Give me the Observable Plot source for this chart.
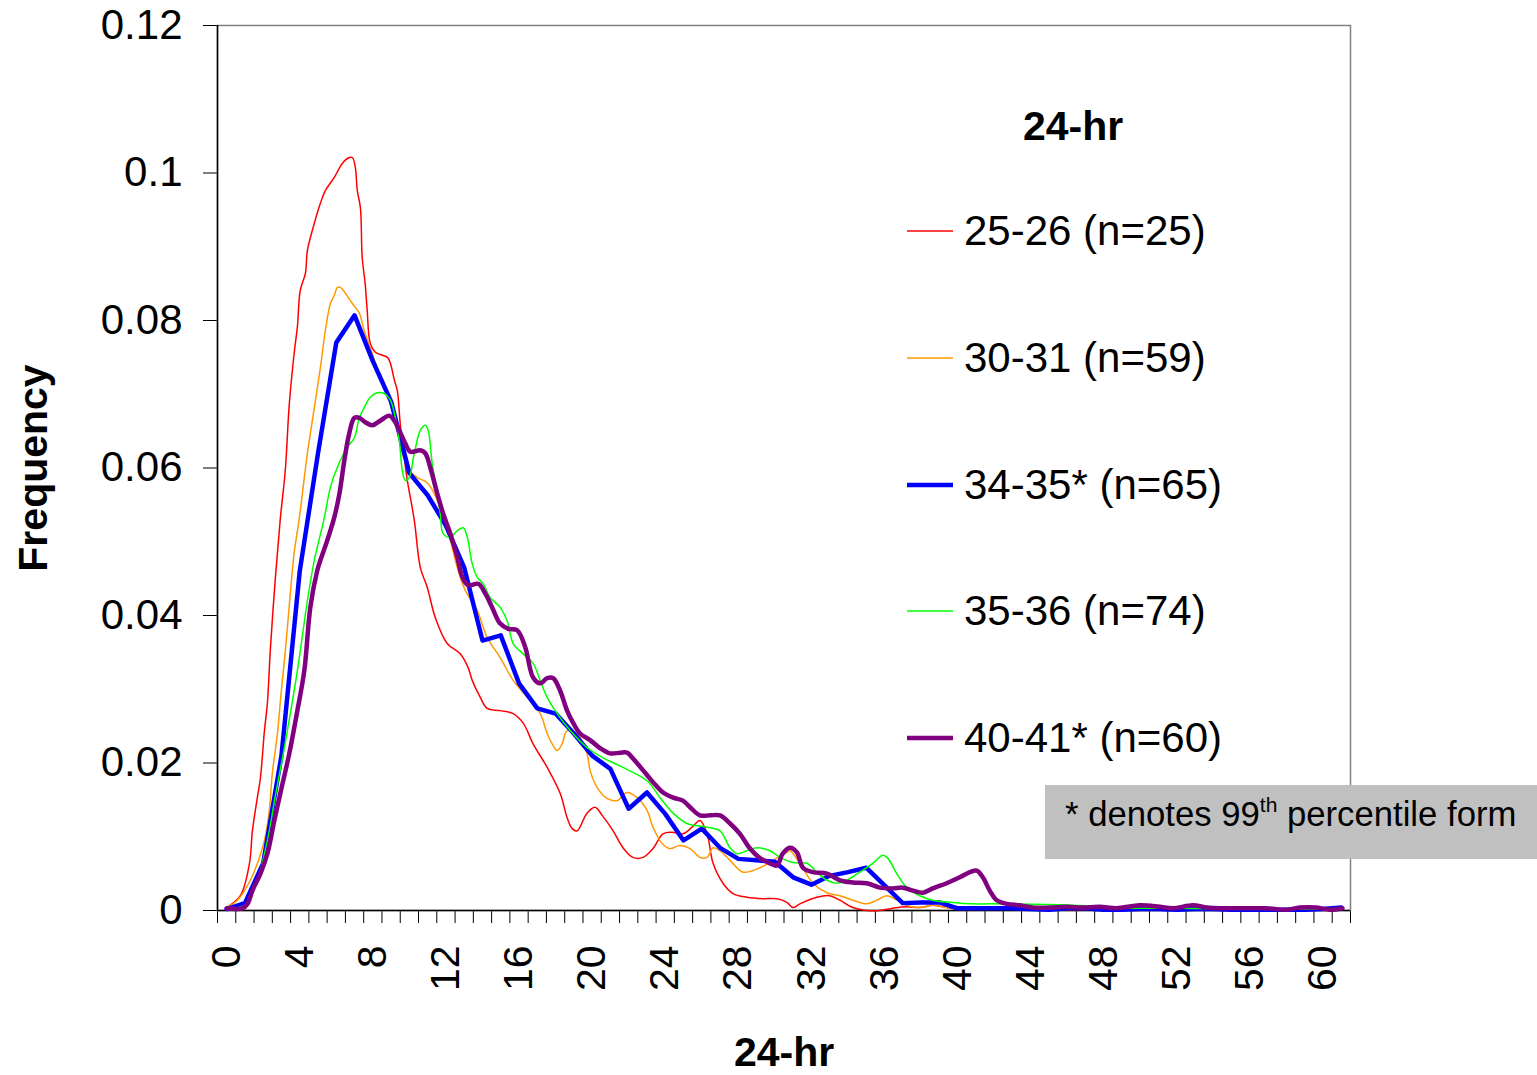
<!DOCTYPE html>
<html>
<head>
<meta charset="utf-8">
<script src="https://cdn.jsdelivr.net/npm/d3@7"></script>
<script src="https://cdn.jsdelivr.net/npm/@observablehq/plot@0.6"></script>
<style>
  html, body { margin: 0; padding: 0; background: #fff; }
  #wrap { position: relative; width: 1537px; height: 1075px; font-family: "Liberation Sans", Arial, sans-serif; color: #000; }
  #chart { position: absolute; left: 0; top: 0; }
  .abs { position: absolute; white-space: nowrap; }
</style>
</head>
<body>
<div id="wrap">
  <div id="chart"></div>
</div>
<script>
// ---------------- data (x = 24-hr value, y = frequency) ----------------
const seriesNames = ["25-26 (n=25)", "30-31 (n=59)", "34-35* (n=65)", "35-36 (n=74)", "40-41* (n=60)"];
const seriesColors = ["#FF0000", "#FF9900", "#0000FF", "#00FF00", "#800080"];
const seriesWidths = [1.5, 1.5, 4.5, 1.5, 4.5];

const redX = [0,0.75,1.25,1.41,1.68,1.85,2.07,2.23,2.39,2.67,2.94,3.21,3.43,3.71,3.87,4.03,4.31,4.42,4.8,5.13,5.4,5.89,6.33,6.71,6.88,7.04,7.15,7.32,7.42,7.58,7.69,7.86,8.14,8.8,8.96,9.18,9.34,9.5,9.72,9.89,10.27,10.6,10.98,11.42,12.07,12.78,13.22,13.44,13.88,14.26,14.97,15.68,16.23,16.77,17.54,18.25,18.63,18.91,19.18,19.72,20.16,20.55,21.15,21.69,22.24,22.79,23.33,23.88,24.37,24.97,25.47,25.9,26.29,26.62,27.16,27.71,28.47,29.35,30.11,30.66,30.99,31.37,32.3,33.0,33.56,34.27,35.04,35.74,36.45,37.22,37.93,38.64,39.4,40,42,44,48,52,56,61];
const redY = [0.0004,0.002,0.0064,0.0108,0.0153,0.018,0.0244,0.0281,0.0353,0.0452,0.0532,0.0597,0.0687,0.0759,0.0791,0.0841,0.0864,0.0895,0.0932,0.0959,0.0976,0.0994,0.1013,0.1021,0.1021,0.1008,0.0976,0.0953,0.0885,0.085,0.0814,0.0769,0.0757,0.075,0.0742,0.0719,0.0705,0.066,0.0614,0.0583,0.0529,0.0465,0.0438,0.0397,0.0362,0.0348,0.0329,0.0312,0.0289,0.0274,0.0271,0.0267,0.0254,0.0226,0.0194,0.0159,0.0126,0.0111,0.0108,0.0132,0.014,0.0129,0.0108,0.0085,0.0072,0.0072,0.0084,0.0104,0.0106,0.0104,0.0113,0.0122,0.0104,0.0064,0.0037,0.0023,0.0018,0.0016,0.0016,0.0011,0.0004,0.0009,0.0018,0.002,0.0014,0.0004,0,0,0.0003,0.0005,0.0004,0.0007,0.0004,0.0002,0.0002,0.0001,0.0001,0.0001,0.0001,0.0001];

const orangeX = [0,0.59,1.3,1.74,2.07,2.32,2.5,2.78,2.96,3.23,3.42,3.69,3.96,4.42,4.8,5.13,5.4,5.68,5.89,6.06,6.22,6.5,6.88,7.26,7.53,7.86,8.24,8.63,8.96,9.34,9.61,9.99,10.43,10.98,11.53,11.85,12.24,12.62,13.06,13.71,14.26,14.97,15.68,16.45,17.16,17.54,17.81,18.09,18.36,18.63,19.18,19.72,19.89,20.27,20.82,21.37,21.91,22.46,23.0,23.33,23.83,24.26,24.81,25.36,25.9,26.29,26.62,27.0,27.55,28.25,29.18,29.9,30.66,30.82,31.37,32.08,32.85,33.56,34.27,35.03,35.58,36.13,36.68,37.22,37.93,38.64,39.4,41,45,50,55,61];
const orangeY = [0.0004,0.0014,0.0041,0.0068,0.0095,0.0132,0.0186,0.024,0.0289,0.0357,0.0411,0.0484,0.0529,0.062,0.0682,0.0736,0.0786,0.0823,0.0834,0.0845,0.0845,0.0837,0.0823,0.081,0.0786,0.0763,0.0736,0.0715,0.0687,0.0651,0.062,0.0597,0.0587,0.058,0.0556,0.0529,0.0502,0.0465,0.0434,0.0407,0.037,0.0343,0.0312,0.0289,0.0267,0.024,0.0226,0.0217,0.0226,0.0244,0.024,0.0213,0.019,0.0167,0.0152,0.0149,0.016,0.0153,0.0136,0.0113,0.0091,0.0084,0.0088,0.0084,0.0072,0.0072,0.0085,0.0081,0.0068,0.0052,0.0058,0.0068,0.0079,0.0081,0.0064,0.0037,0.0024,0.002,0.0014,0.0009,0.0014,0.002,0.0014,0.0007,0.0004,0.0007,0.0004,0.0003,0.0002,0.0002,0.0001,0.0002];

const blueX = d3.range(0, 62);
const blueY = [0.0002,0.001,0.0064,0.021,0.046,0.062,0.077,0.0807,0.0745,0.069,0.0593,0.0563,0.0522,0.0465,0.0366,0.0373,0.0308,0.0274,0.0267,0.024,0.021,0.0192,0.0138,0.016,0.0131,0.0095,0.0111,0.0085,0.007,0.0068,0.0066,0.0045,0.0035,0.0047,0.0052,0.0058,0.0034,0.001,0.0011,0.0011,0.0003,0.0003,0.0003,0.0003,0.0002,0.0001,0.0003,0.0003,0.0001,0.0001,0.0002,0.0002,0.0001,0.0002,0.0002,0.0001,0.0001,0.0001,0.0001,0.0001,0.0002,0.0004];

const greenX = [0,0.97,1.68,2.23,2.67,3.16,3.87,4.42,4.8,5.35,5.68,6.06,6.6,6.99,7.26,7.53,7.86,8.24,8.63,8.96,9.23,9.45,9.61,9.78,9.99,10.27,10.6,10.87,11.03,11.25,11.53,11.69,11.85,12.24,12.62,12.95,13.17,13.44,13.71,14.04,14.42,14.97,15.35,15.68,16.23,16.77,17.16,17.54,18.09,18.8,19.72,20.6,21.69,23.0,23.72,24.43,25.19,26.29,27.0,27.55,27.93,28.47,29.02,29.73,30.28,30.99,31.75,32.3,32.85,33.39,33.94,34.65,35.36,35.91,36.18,36.67,37.22,37.93,38.64,39.73,40.82,41.92,46.3,48,50,52,55,58,61];
const greenY = [0.0003,0.0007,0.0041,0.0095,0.0156,0.0221,0.0325,0.042,0.0475,0.0533,0.0574,0.0601,0.0628,0.0641,0.0668,0.0682,0.0696,0.0702,0.0701,0.0692,0.0668,0.0637,0.0597,0.0583,0.0587,0.062,0.0651,0.0658,0.0651,0.0606,0.0565,0.0538,0.0511,0.0506,0.0515,0.0519,0.0506,0.047,0.0452,0.0443,0.0424,0.0411,0.0393,0.0362,0.0348,0.0335,0.0312,0.0289,0.0267,0.0244,0.0221,0.0207,0.0194,0.0176,0.0153,0.0132,0.0118,0.0113,0.0108,0.0085,0.0077,0.0081,0.0085,0.0081,0.0072,0.0065,0.0064,0.0052,0.0041,0.0037,0.0041,0.0052,0.0064,0.0075,0.0071,0.005,0.0031,0.002,0.0014,0.0011,0.0009,0.0009,0.0007,0.0005,0.0003,0.0003,0.0002,0.0002,0.0002];

const purpleX = [0,0.86,1.14,1.41,1.85,2.23,2.61,2.94,3.43,3.87,4.25,4.58,4.96,5.13,5.51,5.89,6.17,6.44,6.71,6.99,7.26,7.59,7.97,8.4,8.9,9.18,9.45,9.78,10.05,10.6,10.87,11.14,11.53,11.85,12.24,12.62,12.9,13.22,13.77,14.15,14.53,14.97,15.41,15.9,16.34,16.77,17.16,17.54,17.87,18.25,18.63,18.97,19.34,19.89,20.44,20.98,21.53,21.91,22.24,22.79,23.33,23.88,24.43,24.97,25.36,25.9,26.45,27.0,27.55,28.09,28.64,29.18,29.73,30.11,30.43,30.82,31.2,31.54,32.08,32.85,33.56,34.27,35.03,35.74,36.45,37.0,37.55,38.09,38.64,39.4,40.12,40.67,41.05,41.38,41.76,42.14,42.69,43.4,44.11,45.04,45.96,46.84,47.77,48.7,49.96,51.05,51.77,52.87,53.64,54.35,56.92,58.0,58.72,59.65,60.37,61.06];
const purpleY = [0.0003,0.0003,0.0009,0.0027,0.005,0.0077,0.0122,0.0159,0.0213,0.0271,0.0325,0.0411,0.0461,0.0475,0.0502,0.0533,0.0565,0.061,0.0647,0.0668,0.0668,0.0662,0.0658,0.0664,0.0671,0.0664,0.0651,0.0633,0.0622,0.0624,0.062,0.0601,0.0565,0.0538,0.0511,0.0479,0.0452,0.0441,0.0443,0.043,0.0411,0.0389,0.0382,0.038,0.0357,0.0316,0.0308,0.0315,0.0315,0.0298,0.0271,0.0254,0.024,0.0231,0.022,0.0213,0.0214,0.0214,0.0206,0.019,0.0174,0.016,0.0153,0.0149,0.014,0.0129,0.0129,0.0129,0.0118,0.0104,0.0084,0.0071,0.0064,0.0061,0.0077,0.0085,0.0079,0.0058,0.0052,0.005,0.0041,0.0038,0.0037,0.0031,0.003,0.0031,0.0027,0.0024,0.003,0.0037,0.0045,0.0052,0.0054,0.0045,0.0027,0.0014,0.0009,0.0007,0.0004,0.0004,0.0005,0.0004,0.0005,0.0003,0.0007,0.0005,0.0003,0.0007,0.0004,0.0003,0.0003,0.0001,0.0004,0.0004,0.0001,0.0003];

const xTickLabels = [0,4,8,12,16,20,24,28,32,36,40,44,48,52,56,60];
const yTickValues = [0,0.02,0.04,0.06,0.08,0.1,0.12];
const xCategories = d3.range(0, 62);          // one category per integer value
const xTitle = "24-hr";
const yTitle = "Frequency";
const legendTitle = "24-hr";
const noteText = ["* denotes 99", "th", " percentile form"];

// ---------------- build ----------------
const allX = [redX, orangeX, blueX, greenX, purpleX];
const allY = [redY, orangeY, blueY, greenY, purpleY];
const series = seriesNames.map((name, i) => allX[i].map((x, j) => ({x, y: allY[i][j], name})));
const boundaries = xCategories.concat([xCategories.length]).map(c => c - 0.5);

const lineMarks = series.map((data, i) => Plot.line(data, {
  x: "x", y: "y",
  stroke: seriesColors[i],
  strokeWidth: seriesWidths[i],
  curve: i === 2 ? "linear" : "catmull-rom",
  strokeLinejoin: "round",
  strokeLinecap: "round"
}));

const chart = Plot.plot({
  width: 1537,
  height: 1075,
  marginLeft: 217,
  marginRight: 187,
  marginTop: 25,
  marginBottom: 165,
  style: {fontFamily: "'Liberation Sans', Arial, sans-serif", fontSize: "42px", color: "#000", background: "#fff"},
  x: {domain: [-0.5, xCategories.length - 0.5], ticks: boundaries, tickSize: 13, tickFormat: () => "", label: null},
  y: {domain: [0, 0.12], ticks: yTickValues, tickSize: 14, tickPadding: 21, tickFormat: d => String(d), label: null},
  marks: [
    Plot.frame({stroke: "#808080", strokeWidth: 1.5}),
    Plot.ruleX([-0.5], {stroke: "#000", strokeWidth: 1.5}),
    Plot.ruleY([0], {stroke: "#000", strokeWidth: 1.5}),
    ...lineMarks,
    Plot.text(xTickLabels, {x: d => d, text: d => String(d), frameAnchor: "bottom", rotate: -90, textAnchor: "end", lineAnchor: "middle", dy: 35, fontSize: 41}),
    Plot.text([yTitle], {text: d => d, frameAnchor: "left", dx: -184, rotate: -90, textAnchor: "middle", lineAnchor: "middle", fontSize: 41, fontWeight: "bold"}),
    Plot.text([xTitle], {text: d => d, frameAnchor: "bottom", dy: 142, textAnchor: "middle", lineAnchor: "middle", fontSize: 41, fontWeight: "bold"})
  ]
});
document.getElementById("chart").appendChild(chart);

// ---------------- legend & note (HTML overlay) ----------------
const wrap = document.getElementById("wrap");
const lt = document.createElement("div");
lt.className = "abs";
lt.textContent = legendTitle;
Object.assign(lt.style, {left: "1023px", top: "106px", fontSize: "41px", lineHeight: "41px", fontWeight: "bold", width: "100px", textAlign: "center"});
wrap.appendChild(lt);

seriesNames.forEach((name, i) => {
  const cy = 231 + i * 126.75;
  const sw = document.createElementNS("http://www.w3.org/2000/svg", "svg");
  sw.setAttribute("width", 50); sw.setAttribute("height", 10);
  Object.assign(sw.style, {position: "absolute", left: "905px", top: (cy - 5) + "px"});
  const ln = document.createElementNS("http://www.w3.org/2000/svg", "line");
  ln.setAttribute("x1", 2); ln.setAttribute("x2", 48); ln.setAttribute("y1", 5); ln.setAttribute("y2", 5);
  ln.setAttribute("stroke", seriesColors[i]); ln.setAttribute("stroke-width", seriesWidths[i]);
  sw.appendChild(ln);
  wrap.appendChild(sw);
  const t = document.createElement("div");
  t.className = "abs";
  t.textContent = name;
  Object.assign(t.style, {left: "964px", top: (cy - 21) + "px", fontSize: "42px", lineHeight: "42px"});
  wrap.appendChild(t);
});

const note = document.createElement("div");
note.className = "abs";
Object.assign(note.style, {left: "1045px", top: "785px", width: "492px", height: "74px", background: "#C0C0C0", boxSizing: "border-box", paddingLeft: "20px", paddingTop: "12px", fontSize: "34.7px", lineHeight: "34px"});
note.innerHTML = `${noteText[0]}<span style="font-size:21px; position:relative; top:-14px;">${noteText[1]}</span>${noteText[2]}`;
wrap.appendChild(note);
</script>
</body>
</html>
